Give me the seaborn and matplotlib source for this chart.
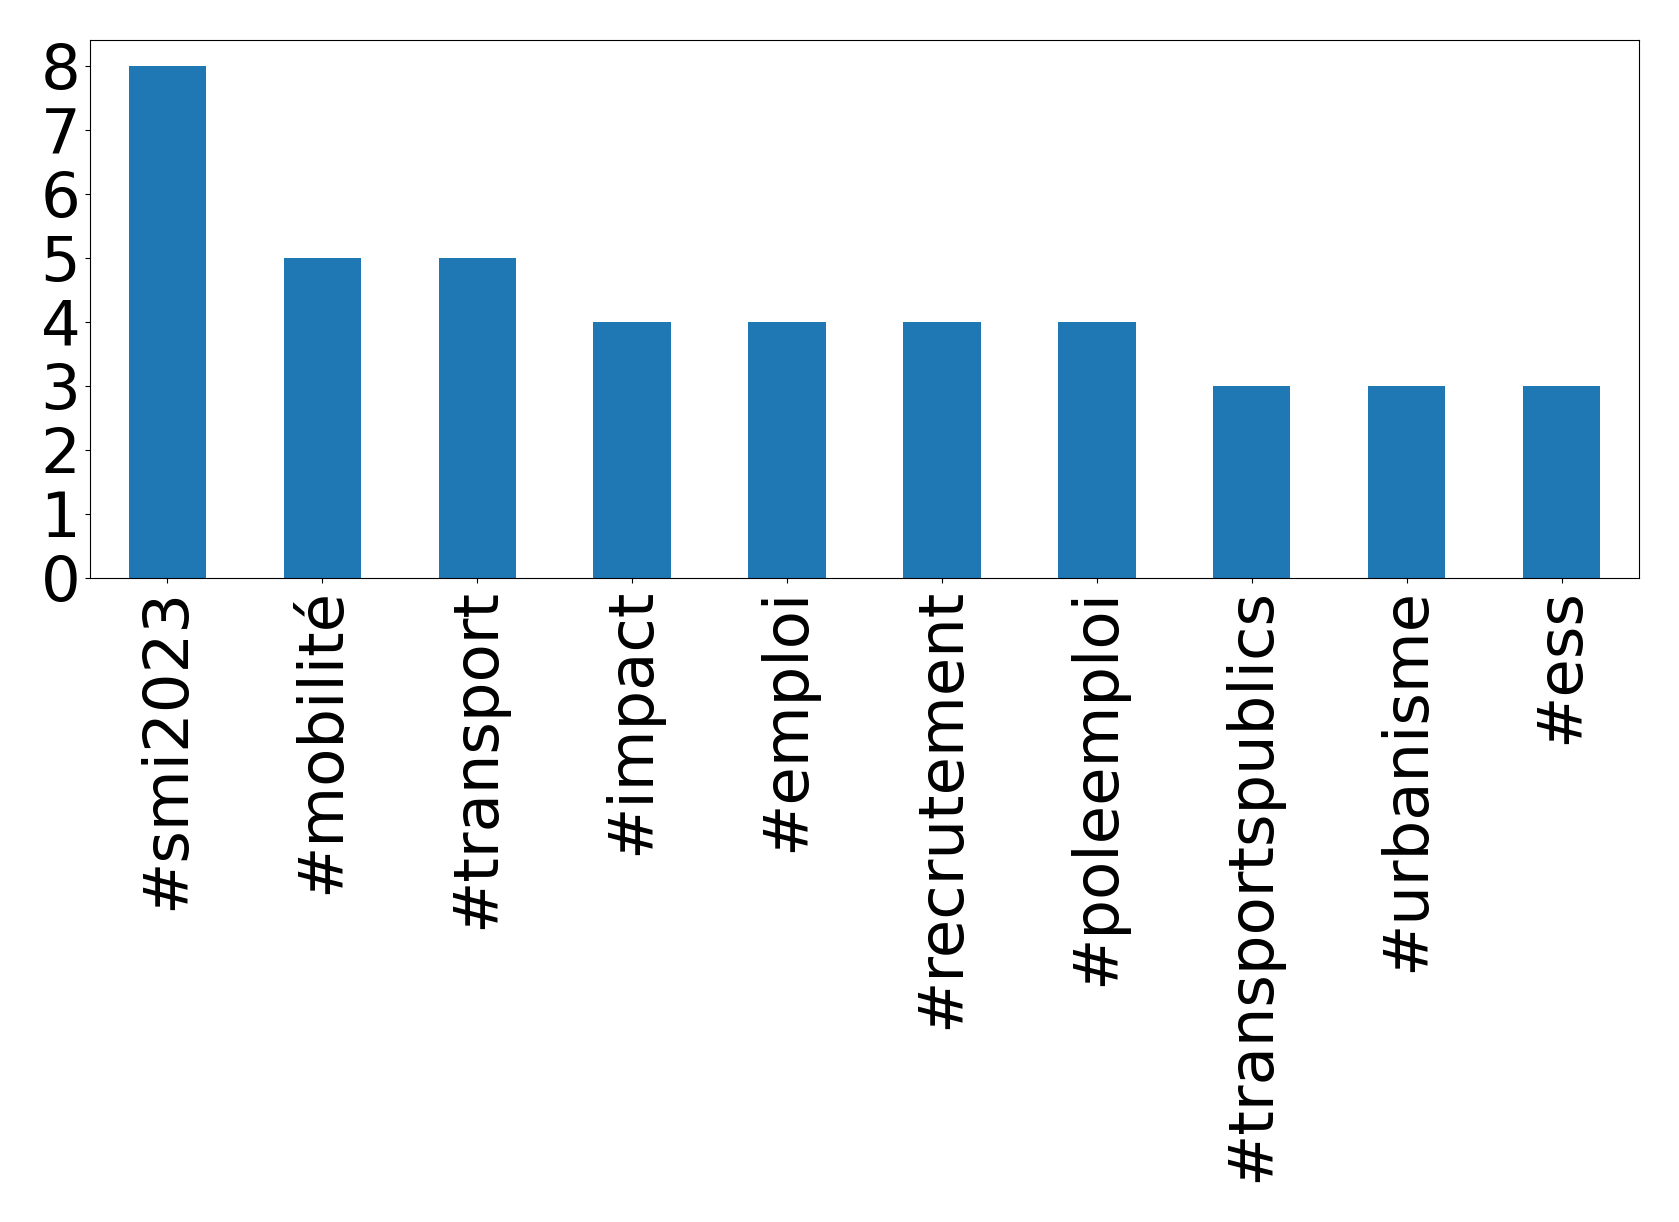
import matplotlib
matplotlib.use("Agg")
import matplotlib.pyplot as plt
import seaborn as sns
import pandas as pd

hashtags = ["#smi2023", "#mobilité", "#transport", "#impact", "#emploi",
            "#recrutement", "#poleemploi", "#transportspublics", "#urbanisme", "#ess"]
counts = [8, 5, 5, 4, 4, 4, 4, 3, 3, 3]
yticks = [0, 1, 2, 3, 4, 5, 6, 7, 8]

df = pd.DataFrame({"hashtag": hashtags, "count": counts})

fig = plt.figure(figsize=(16.79, 12.22), dpi=100)
ax = fig.add_axes([90 / 1679, 1 - 578 / 1222, (1639 - 90) / 1679, (578 - 40) / 1222])
sns.barplot(data=df, x="hashtag", y="count", color="#1f77b4", saturation=1,
            width=0.5, ax=ax)
ax.set_xlim(-0.5, len(hashtags) - 0.5)
ax.set_ylim(0, 8.4)
ax.set_yticks(yticks)
ax.set_xlabel("")
ax.set_ylabel("")
ax.tick_params(axis="both", labelsize=45)
ax.tick_params(axis="x", labelrotation=90)
fig.savefig("out.png", dpi=100)
